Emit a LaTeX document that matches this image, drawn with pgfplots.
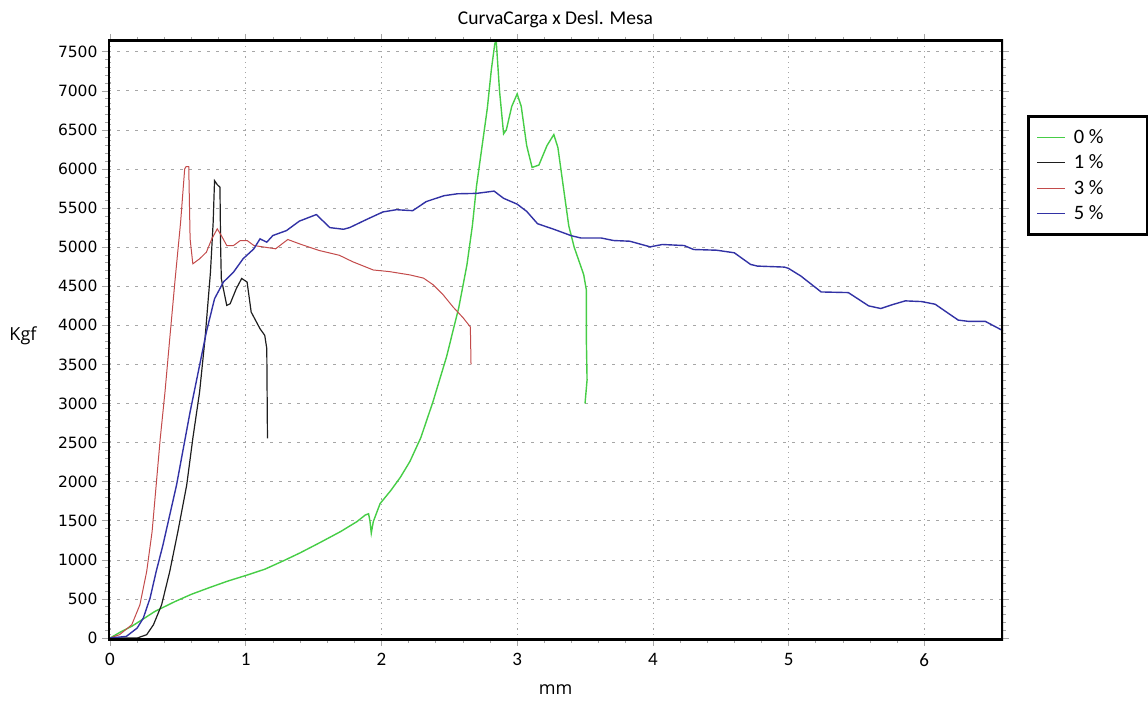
\documentclass[border=0pt]{standalone}
\usepackage{fontspec}
\setmainfont{Carlito}
\newfontfamily\dejavu{DejaVu Sans}
\newfontfamily\opensans{Open Sans}
\usepackage{pgfplots}
\pgfplotsset{compat=1.18}
\definecolor{cgreen}{RGB}{70,205,70}
\definecolor{cblack}{RGB}{30,30,30}
\definecolor{cred}{RGB}{195,75,75}
\definecolor{cblue}{RGB}{50,50,165}
\begin{document}
\begin{tikzpicture}
\useasboundingbox (0,0) rectangle (1148pt,704pt);
\begin{axis}[
  at={(108pt,64pt)}, anchor=south west,
  scale only axis, width=895pt, height=600pt,
  xmin=-0.015, xmax=6.58, ymin=-25, ymax=7650,
  xtick={0,1,2,3,4,5,6},
  ytick={0,500,...,7500},
  minor x tick num=4, minor y tick num=4,
  tick align=outside,
  major tick length=6pt, minor tick length=3pt,
  every tick/.style={gray!70, line width=0.6pt},
  axis line style={draw=none},
  xmajorgrids, ymajorgrids,
  x grid style={gray!70, line width=0.7pt, dash pattern=on 1.2pt off 4pt},
  y grid style={gray!70, line width=0.7pt, dash pattern=on 3pt off 6pt},
  /pgf/number format/assume math mode=true,
  /pgf/number format/set thousands separator={},
  yticklabel style={font=\dejavu\fontsize{15.5}{17}\selectfont, xshift=-1pt},
  xticklabel style={font=\fontsize{19}{21}\selectfont, yshift=-4pt},
  title={CurvaCarga x Desl. Mesa},
  title style={font=\fontsize{19.5}{22}\selectfont, at={(0.5,1)}, anchor=south, yshift=3pt},
  xlabel={mm}, ylabel={Kgf},
  every axis x label/.style={at={(axis description cs:0.5,-0.083)}, anchor=center, font=\opensans\fontsize{18}{20}\selectfont},
  every axis y label/.style={at={(axis description cs:-0.095,0.507)}, anchor=center, font=\opensans\fontsize{18}{20}\selectfont},
  clip=true,
  legend style={at={(1.027,0.875)}, anchor=north west, draw=black, line width=3pt,
    font=\fontsize{20.5}{22}\selectfont, inner xsep=8pt, inner ysep=11pt, row sep=6pt},
  legend cell align=left,
  legend image code/.code={\draw[#1, line width=1.2pt] (0pt,0pt) -- (28pt,0pt);},
]
\addplot[cgreen, line width=1.4pt] table {
0 0
0.08 80
0.16 150
0.25 250
0.33 340
0.48 468
0.6 560
0.74 650
0.87 730
1.0 800
1.14 880
1.28 990
1.40 1089
1.55 1224
1.70 1363
1.82 1490
1.88 1573
1.905 1590
1.915 1500
1.925 1342
1.94 1490
1.99 1720
2.07 1890
2.14 2058
2.21 2260
2.29 2563
2.38 3025
2.48 3600
2.57 4230
2.63 4775
2.67 5275
2.70 5775
2.74 6275
2.78 6775
2.81 7275
2.835 7600
2.845 7650
2.87 7000
2.90 6450
2.92 6500
2.96 6800
3.0 6960
3.03 6800
3.07 6300
3.11 6020
3.16 6050
3.22 6300
3.27 6440
3.30 6275
3.34 5775
3.38 5275
3.42 5000
3.46 4800
3.49 4650
3.51 4450
3.51 3800
3.515 3300
3.50 3000
};
\addlegendentry{\makebox[70pt][l]{\hspace{6pt}0 \%}}
\addplot[cblack, line width=1.2pt] table {
0 0
0.20 0
0.27 43
0.32 170
0.38 425
0.44 851
0.50 1362
0.565 1957
0.61 2553
0.66 3149
0.70 3830
0.74 4681
0.76 5319
0.77 5851
0.79 5800
0.81 5766
0.815 5000
0.82 4596
0.86 4255
0.885 4276
0.93 4468
0.97 4600
1.01 4553
1.04 4170
1.105 3957
1.14 3872
1.155 3702
1.16 2553
};
\addlegendentry{\hspace{6pt}1 \%}
\addplot[cred, line width=1pt] table {
0 0
0.07 43
0.16 170
0.22 425
0.27 851
0.31 1362
0.34 1957
0.37 2553
0.405 3149
0.44 3830
0.48 4596
0.52 5319
0.55 6000
0.56 6030
0.58 6030
0.59 5106
0.61 4787
0.66 4851
0.71 4936
0.75 5106
0.79 5234
0.82 5149
0.86 5021
0.91 5021
0.96 5085
1.01 5085
1.06 5021
1.22 4979
1.31 5098
1.40 5040
1.54 4958
1.69 4896
1.79 4812
1.94 4708
2.06 4687
2.21 4645
2.31 4604
2.38 4520
2.45 4400
2.53 4230
2.60 4100
2.655 3980
2.66 3500
};
\addlegendentry{\hspace{6pt}3 \%}
\addplot[cblue, line width=1.4pt] table {
0 0
0.12 21
0.20 128
0.245 255
0.295 511
0.34 851
0.39 1191
0.44 1574
0.49 1957
0.54 2425
0.59 2893
0.65 3404
0.71 3915
0.77 4340
0.835 4553
0.91 4681
0.98 4851
1.06 4979
1.105 5106
1.155 5064
1.20 5149
1.30 5212
1.395 5333
1.52 5417
1.62 5250
1.72 5229
1.765 5250
1.89 5354
2.01 5450
2.11 5479
2.23 5467
2.33 5583
2.46 5658
2.56 5683
2.70 5688
2.83 5717
2.90 5625
3.0 5550
3.07 5458
3.15 5300
3.27 5229
3.40 5146
3.47 5117
3.62 5117
3.71 5085
3.83 5076
3.98 5004
4.07 5034
4.23 5021
4.30 4970
4.47 4961
4.60 4928
4.72 4779
4.77 4758
4.97 4745
5.0 4728
5.09 4631
5.24 4427
5.44 4419
5.59 4249
5.68 4215
5.76 4262
5.86 4313
5.98 4304
6.08 4270
6.15 4186
6.25 4067
6.33 4050
6.45 4050
6.58 3931
};
\addlegendentry{\hspace{6pt}5 \%}
\draw[black, line width=4pt] (rel axis cs:0,0) rectangle (rel axis cs:1,1);
\end{axis}
\end{tikzpicture}
\end{document}
